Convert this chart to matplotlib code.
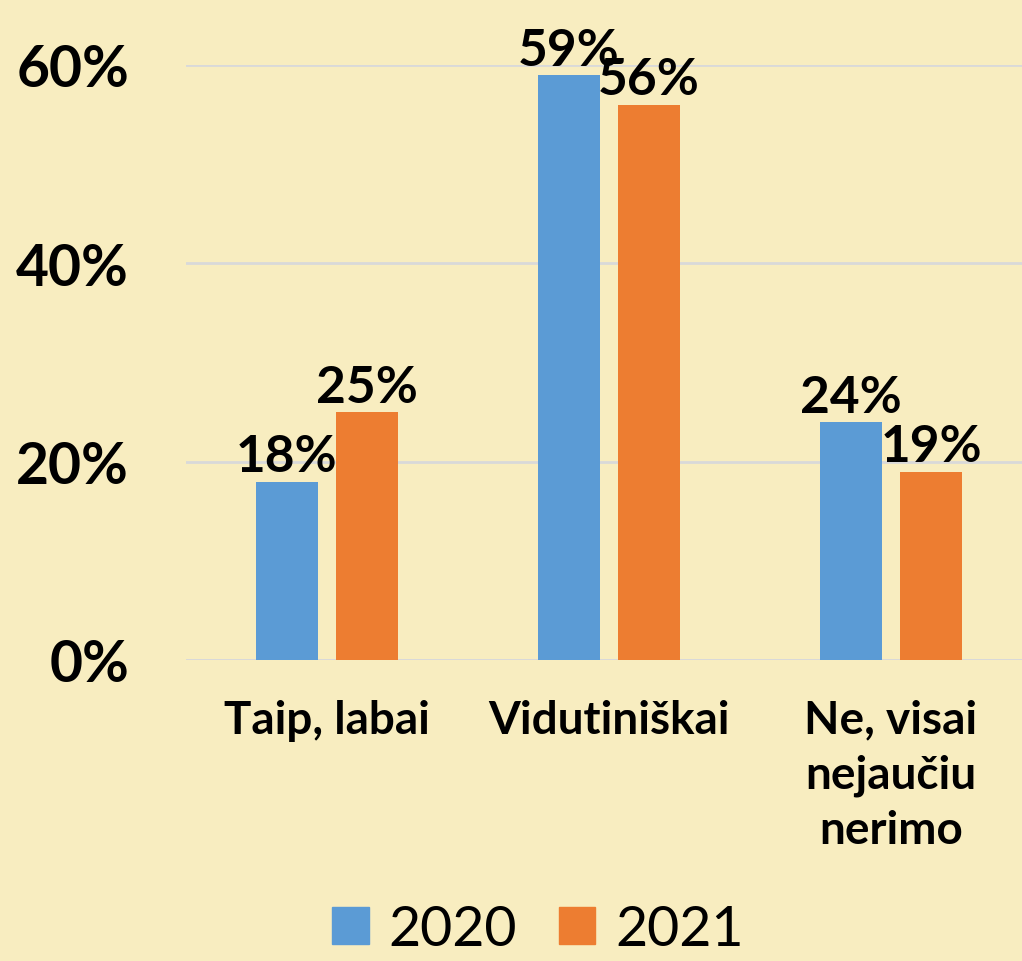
import numpy as np
import matplotlib.pyplot as plt
from matplotlib.patches import Patch

categories = ['Taip, labai', 'Vidutiniškai', 'Ne, visai\nnejaučiu\nnerimo']
series = ['2020', '2021']
values_2020 = [0.18, 0.59, 0.24]
values_2021 = [0.25, 0.56, 0.19]
yticks = [0, 0.2, 0.4, 0.6]
ytick_labels = ['0%', '20%', '40%', '60%']

bg = '#F8EDC0'
blue = '#5B9BD5'
orange = '#ED7D31'

plt.rcParams['font.family'] = ['Lato', 'DejaVu Sans']

W, H = 1022, 962
fig = plt.figure(figsize=(W / 100, H / 100), dpi=100, facecolor=bg)
# axes placed in pixel coordinates: x 186..1032, y 66..661
ax = fig.add_axes([186 / W, 1 - 661 / H, (1032 - 186) / W, (661 - 66) / H])
ax.set_facecolor(bg)

x = np.arange(len(categories))
w = 0.223
off = 0.142
b1 = ax.bar(x - off, values_2020, w, color=blue)
b2 = ax.bar(x + off, values_2021, w, color=orange)

for bars, vals in [(b1, values_2020), (b2, values_2021)]:
    for b, v in zip(bars, vals):
        ax.annotate(f'{v * 100:.0f}%', (b.get_x() + b.get_width() / 2, v),
                    xytext=(0, 1), textcoords='offset points',
                    ha='center', va='bottom', fontsize=37, fontweight='bold',
                    clip_on=False)

ax.set_xlim(-0.5, 2.5)
ax.set_ylim(0, 0.6)
ax.set_yticks(yticks)
ax.set_yticklabels(ytick_labels, fontsize=41, fontweight='bold')
ax.set_xticks(x)
ax.set_xticklabels(categories, fontsize=33, fontweight='bold', linespacing=1.38)
ax.tick_params(axis='both', length=0)
ax.tick_params(axis='y', pad=41)
ax.tick_params(axis='x', pad=28)

ax.yaxis.grid(True, color='#D9D9D9', linewidth=2)
ax.set_axisbelow(True)
for s in ax.spines.values():
    s.set_visible(False)
ax.axhline(0, color='#D9D9D9', linewidth=2, zorder=0.5)

handles = [Patch(color=blue, label=series[0]), Patch(color=orange, label=series[1])]
fig.legend(handles=handles, loc='lower center', bbox_to_anchor=(538 / W, -0.046),
           ncol=2, frameon=False, fontsize=40, handlelength=0.66, handleheight=0.66,
           handletextpad=0.35, columnspacing=0.75)

fig.savefig('out.png', dpi=100, facecolor=bg)
